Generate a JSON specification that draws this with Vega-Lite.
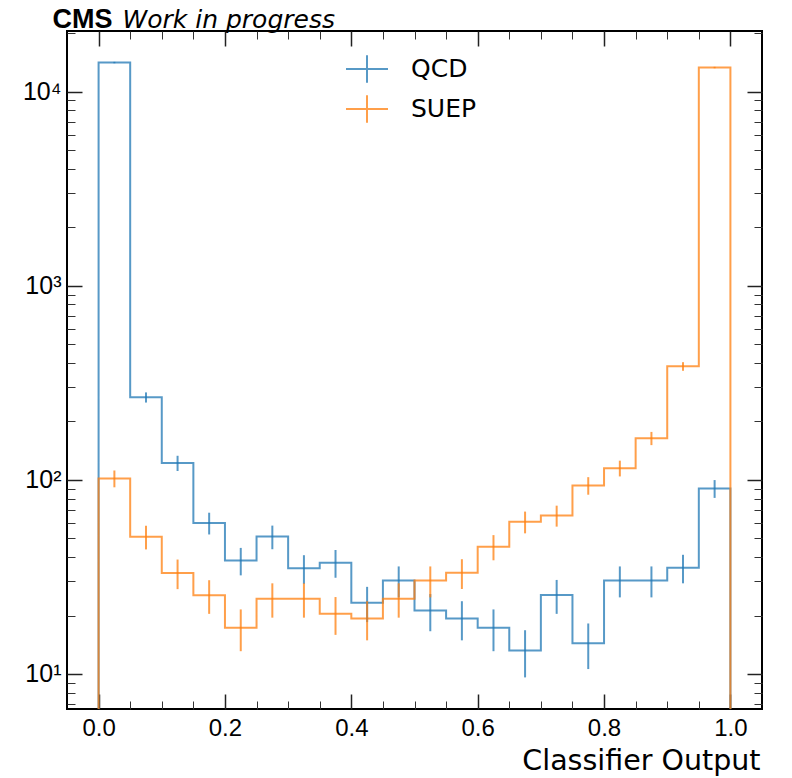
{
  "$schema": "https://vega.github.io/schema/vega-lite/v6.json",
  "width": 695,
  "height": 678,
  "autosize": {"type": "none"},
  "padding": {"left": 67, "top": 31, "right": 30, "bottom": 69},
  "background": "white",
  "datasets": {
    "h": [
      {"s":"QCD","i":0,"x":0,"n":1},
      {"s":"QCD","i":1,"x":0,"n":14100,"c":0.025,"lo":13981,"hi":14219},
      {"s":"QCD","i":2,"x":0.05,"n":266,"c":0.075,"lo":250,"hi":282},
      {"s":"QCD","i":3,"x":0.1,"n":122,"c":0.125,"lo":111,"hi":133},
      {"s":"QCD","i":4,"x":0.15,"n":60,"c":0.175,"lo":52.3,"hi":67.7},
      {"s":"QCD","i":5,"x":0.2,"n":38.4,"c":0.225,"lo":32.2,"hi":44.6},
      {"s":"QCD","i":6,"x":0.25,"n":51,"c":0.275,"lo":43.9,"hi":58.1},
      {"s":"QCD","i":7,"x":0.3,"n":35,"c":0.325,"lo":29.1,"hi":40.9},
      {"s":"QCD","i":8,"x":0.35,"n":37.4,"c":0.375,"lo":31.3,"hi":43.5},
      {"s":"QCD","i":9,"x":0.4,"n":23.3,"c":0.425,"lo":18.5,"hi":28.1},
      {"s":"QCD","i":10,"x":0.45,"n":30.3,"c":0.475,"lo":24.8,"hi":35.8},
      {"s":"QCD","i":11,"x":0.5,"n":21.2,"c":0.525,"lo":16.6,"hi":25.8},
      {"s":"QCD","i":12,"x":0.55,"n":19.3,"c":0.575,"lo":14.9,"hi":23.7},
      {"s":"QCD","i":13,"x":0.6,"n":17.3,"c":0.625,"lo":13.1,"hi":21.5},
      {"s":"QCD","i":14,"x":0.65,"n":13.2,"c":0.675,"lo":9.6,"hi":16.8},
      {"s":"QCD","i":15,"x":0.7,"n":25.5,"c":0.725,"lo":20.4,"hi":30.5},
      {"s":"QCD","i":16,"x":0.75,"n":14.4,"c":0.775,"lo":10.6,"hi":18.2},
      {"s":"QCD","i":17,"x":0.8,"n":30.3,"c":0.825,"lo":24.8,"hi":35.8},
      {"s":"QCD","i":18,"x":0.85,"n":30.3,"c":0.875,"lo":24.8,"hi":35.8},
      {"s":"QCD","i":19,"x":0.9,"n":35.2,"c":0.925,"lo":29.3,"hi":41.1},
      {"s":"QCD","i":20,"x":0.95,"n":90.2,"c":0.975,"lo":80.7,"hi":99.7},
      {"s":"QCD","i":21,"x":1,"n":90.2},
      {"s":"QCD","i":22,"x":1,"n":1},
      {"s":"SUEP","i":0,"x":0,"n":1},
      {"s":"SUEP","i":1,"x":0,"n":101.6,"c":0.025,"lo":91.5,"hi":111.7},
      {"s":"SUEP","i":2,"x":0.05,"n":50.9,"c":0.075,"lo":43.8,"hi":58.0},
      {"s":"SUEP","i":3,"x":0.1,"n":33.1,"c":0.125,"lo":27.35,"hi":38.85},
      {"s":"SUEP","i":4,"x":0.15,"n":25.4,"c":0.175,"lo":20.4,"hi":30.4},
      {"s":"SUEP","i":5,"x":0.2,"n":17.3,"c":0.225,"lo":13.1,"hi":21.5},
      {"s":"SUEP","i":6,"x":0.25,"n":24.4,"c":0.275,"lo":19.5,"hi":29.3},
      {"s":"SUEP","i":7,"x":0.3,"n":24.4,"c":0.325,"lo":19.5,"hi":29.3},
      {"s":"SUEP","i":8,"x":0.35,"n":20.4,"c":0.375,"lo":15.9,"hi":24.9},
      {"s":"SUEP","i":9,"x":0.4,"n":19.3,"c":0.425,"lo":14.9,"hi":23.7},
      {"s":"SUEP","i":10,"x":0.45,"n":24.4,"c":0.475,"lo":19.5,"hi":29.3},
      {"s":"SUEP","i":11,"x":0.5,"n":30.3,"c":0.525,"lo":24.8,"hi":35.8},
      {"s":"SUEP","i":12,"x":0.55,"n":33.2,"c":0.575,"lo":27.4,"hi":39.0},
      {"s":"SUEP","i":13,"x":0.6,"n":45.2,"c":0.625,"lo":38.5,"hi":51.9},
      {"s":"SUEP","i":14,"x":0.65,"n":60.8,"c":0.675,"lo":53.0,"hi":68.6},
      {"s":"SUEP","i":15,"x":0.7,"n":65.5,"c":0.725,"lo":57.4,"hi":73.6},
      {"s":"SUEP","i":16,"x":0.75,"n":93.5,"c":0.775,"lo":83.8,"hi":103.2},
      {"s":"SUEP","i":17,"x":0.8,"n":114.8,"c":0.825,"lo":104.1,"hi":125.5},
      {"s":"SUEP","i":18,"x":0.85,"n":163.7,"c":0.875,"lo":150.9,"hi":176.5},
      {"s":"SUEP","i":19,"x":0.9,"n":384,"c":0.925,"lo":364.4,"hi":403.6},
      {"s":"SUEP","i":20,"x":0.95,"n":13290,"c":0.975,"lo":13175,"hi":13405},
      {"s":"SUEP","i":21,"x":1,"n":13290},
      {"s":"SUEP","i":22,"x":1,"n":1}
    ]
  },
  "data": {"name": "h"},
  "layer": [
    {
      "mark": {"type": "line", "interpolate": "step-after", "clip": true, "strokeWidth": 2, "opacity": 0.75},
      "encoding": {
        "x": {"field": "x", "type": "quantitative",
          "scale": {"domain": [-0.05, 1.05], "nice": false, "zero": false},
          "axis": {"orient": "bottom", "values": [0, 0.2, 0.4, 0.6, 0.8, 1.0], "format": ".1f",
            "ticks": false, "domain": false, "grid": false, "labelFlush": false, "labelOverlap": false, "labelBound": false,
            "labelFont": "Liberation Sans", "labelFontSize": 24, "labelColor": "black", "labelPadding": 7,
            "title": "Classifier Output", "titleFont": "DejaVu Sans", "titleFontSize": 28.5, "titleFontWeight": "normal",
            "titleColor": "black", "titleAnchor": "end", "titleAlign": "right", "titleX": 693, "titleY": 60, "titleBaseline": "alphabetic"}},
        "y": {"field": "n", "type": "quantitative",
          "scale": {"type": "log", "domain": [6.6, 20500], "nice": false},
          "axis": {"orient": "left", "values": [10, 100, 1000, 10000],
            "labelExpr": "datum.value == 10 ? '10¹' : datum.value == 100 ? '10²' : datum.value == 1000 ? '10³' : '10⁴'",
            "ticks": false, "domain": false, "grid": false, "labelOverlap": false, "labelBound": false,
            "labelFont": "Liberation Sans", "labelFontSize": 25, "labelColor": "black", "labelPadding": 6, "title": null}},
        "color": {"field": "s", "type": "nominal",
          "scale": {"domain": ["QCD", "SUEP"], "range": ["#1f77b4", "#ff7f0e"]},
          "legend": {"title": null, "orient": "none", "legendX": 278, "legendY": 16,
            "symbolType": "M-1,0H1M0,-0.65V0.65", "symbolSize": 1764, "symbolStrokeWidth": 2, "symbolOpacity": 0.75,
            "labelFont": "DejaVu Sans", "labelFontSize": 25, "labelColor": "black", "labelOffset": 22,
            "rowPadding": -2, "padding": 0}},
        "order": {"field": "i", "type": "quantitative"}
      }
    },
    {
      "transform": [{"filter": "isValid(datum.c)"}],
      "mark": {"type": "rule", "strokeWidth": 2, "opacity": 0.75},
      "encoding": {
        "x": {"field": "c", "type": "quantitative",
          "axis": {"orient": "bottom", "values": [0, 0.2, 0.4, 0.6, 0.8, 1.0], "labels": false, "domain": false, "grid": false,
            "tickSize": -15, "tickWidth": 1.5, "tickColor": "#222", "title": null}},
        "y": {"field": "lo", "type": "quantitative",
          "axis": {"orient": "left", "values": [10, 100, 1000, 10000], "labels": false, "domain": false, "grid": false,
            "tickSize": -15, "tickWidth": 1.5, "tickColor": "#222", "title": null}},
        "y2": {"field": "hi"},
        "color": {"field": "s", "type": "nominal"}
      }
    },
    {
      "transform": [{"filter": "isValid(datum.c)"}],
      "mark": {"type": "point", "opacity": 0, "size": 1},
      "encoding": {
        "x": {"field": "c", "type": "quantitative",
          "axis": {"orient": "bottom", "values": [0.05, 0.1, 0.15, 0.25, 0.3, 0.35, 0.45, 0.5, 0.55, 0.65, 0.7, 0.75, 0.85, 0.9, 0.95],
            "labels": false, "domain": false, "grid": false, "tickSize": -8, "tickWidth": 1, "tickColor": "#333", "title": null}},
        "y": {"field": "n", "type": "quantitative",
          "axis": {"orient": "left", "values": [7, 8, 9, 20, 30, 40, 50, 60, 70, 80, 90, 200, 300, 400, 500, 600, 700, 800, 900, 2000, 3000, 4000, 5000, 6000, 7000, 8000, 9000, 20000],
            "labels": false, "domain": false, "grid": false, "tickSize": -8, "tickWidth": 1, "tickColor": "#333", "title": null}}
      }
    },
    {
      "transform": [{"filter": "isValid(datum.c)"}],
      "mark": {"type": "point", "opacity": 0, "size": 1},
      "encoding": {
        "x": {"field": "c", "type": "quantitative",
          "axis": {"orient": "top", "values": [0, 0.2, 0.4, 0.6, 0.8, 1.0], "labels": false, "domain": false, "grid": false,
            "tickSize": -15, "tickWidth": 1.5, "tickColor": "#222",
            "title": "CMS", "titleFont": "Liberation Sans", "titleFontSize": 27, "titleFontWeight": "bold", "titleColor": "black",
            "titleAnchor": "start", "titleAlign": "left", "titleX": -15, "titleY": -4, "titleBaseline": "alphabetic"}},
        "y": {"field": "n", "type": "quantitative",
          "axis": {"orient": "right", "values": [10, 100, 1000, 10000], "labels": false, "domain": false, "grid": false,
            "tickSize": -15, "tickWidth": 1.5, "tickColor": "#222", "title": null}}
      }
    },
    {
      "transform": [{"filter": "isValid(datum.c)"}],
      "mark": {"type": "point", "opacity": 0, "size": 1},
      "encoding": {
        "x": {"field": "c", "type": "quantitative",
          "axis": {"orient": "top", "values": [0.05, 0.1, 0.15, 0.25, 0.3, 0.35, 0.45, 0.5, 0.55, 0.65, 0.7, 0.75, 0.85, 0.9, 0.95],
            "labels": false, "domain": false, "grid": false, "tickSize": -8, "tickWidth": 1, "tickColor": "#333",
            "title": "Work in progress", "titleFont": "DejaVu Sans", "titleFontSize": 25, "titleFontWeight": "normal",
            "titleFontStyle": "italic", "titleColor": "black",
            "titleAnchor": "start", "titleAlign": "left", "titleX": 55, "titleY": -4, "titleBaseline": "alphabetic"}},
        "y": {"field": "n", "type": "quantitative",
          "axis": {"orient": "right", "values": [7, 8, 9, 20, 30, 40, 50, 60, 70, 80, 90, 200, 300, 400, 500, 600, 700, 800, 900, 2000, 3000, 4000, 5000, 6000, 7000, 8000, 9000, 20000],
            "labels": false, "domain": false, "grid": false, "tickSize": -8, "tickWidth": 1, "tickColor": "#333", "title": null}}
      }
    }
  ],
  "resolve": {"axis": {"x": "independent", "y": "independent"}},
  "config": {
    "view": {"stroke": "black", "strokeWidth": 2}
  }
}
